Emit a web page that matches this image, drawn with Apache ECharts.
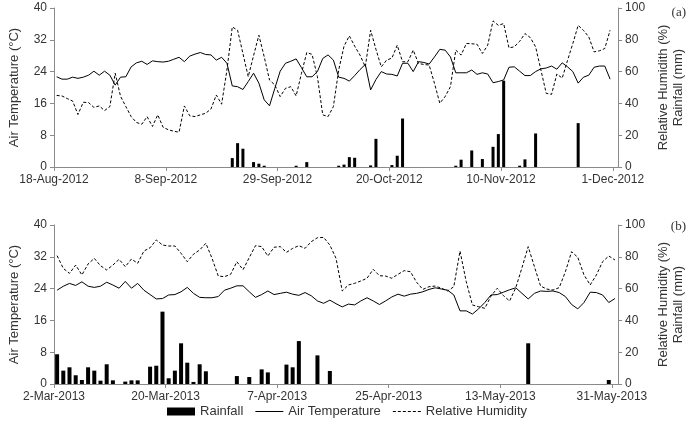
<!DOCTYPE html>
<html>
<head>
<meta charset="utf-8">
<script src="https://cdn.jsdelivr.net/npm/echarts@6/dist/echarts.min.js"></script>
<style>html,body{margin:0;padding:0;background:#fff}#c{width:694px;height:425px}</style>
</head>
<body>
<div id="c"></div>
<script>
// ---------- Panel (a): 18-Aug-2012 .. 1-Dec-2012 (daily, index 0 = 18-Aug-2012)
const ticksA = ['18-Aug-2012','8-Sep-2012','29-Sep-2012','20-Oct-2012','10-Nov-2012','1-Dec-2012'];
const tempA = [22.7,22.1,22.1,22.6,22.3,22.6,23.1,24.1,23.1,24.1,23.1,20.6,22.6,22.7,25.2,26.2,26.6,25.8,26.7,26.5,
  26.4,26.6,27.1,27.6,26.5,27.9,28.4,28.8,28.3,28.2,26.9,27.6,26.1,20.4,20.2,19.5,21.5,23.6,21.1,16.9,
  15.4,19.8,24.1,26.1,26.6,27.2,25.0,22.7,22.7,24.0,27.3,28.2,26.9,22.6,22.3,21.6,23.0,24.5,25.8,19.4,
  22.0,24.0,23.4,23.3,22.9,26.1,26.1,24.0,26.5,26.3,25.9,27.7,29.6,29.4,27.7,23.7,23.7,23.7,24.4,23.3,
  23.7,23.4,21.2,21.5,21.9,25.1,25.2,24.1,23.0,23.0,24.0,24.7,24.9,25.4,24.6,26.2,25.2,24.0,21.1,22.6,
  23.1,25.1,25.4,25.4,22.1];
const rhA = [45,44.7,43,41.5,33,40.7,40.5,37.5,38.4,35.5,38,59,44.5,38,31.7,28,26.9,31.7,25.5,32.8,
  25,23.4,22.5,21.9,38.4,32.2,31.7,32.8,33.8,36.5,45.3,39.5,61,88.1,86,71.4,56.8,70,82.9,69.3,
  54.7,51.6,44.3,49.5,50.5,44.7,58.9,72,70.8,56.8,32.8,31.7,38,61,76,82.5,76,70.4,63,86,
  74,63,67.2,68.5,76.6,66.2,66.2,73.5,65.1,64.5,64.1,52.6,40.1,44.3,50.5,73.5,70.4,77.7,77.5,77.2,
  71.4,76.6,91.9,89.1,90.2,74.9,75.6,79,83.9,81.4,75.6,61,46.3,45.7,58.5,55.9,67,77.7,89.1,85.9,
  81.8,72.4,73.1,74.5,86];
const rainDaysA = [33,34,35,37,38,39,45,47,53,54,55,56,59,60,63,64,65,75,76,78,80,82,83,84,87,88,90,98];
const rainA = [5.6,15,11.5,3.1,2.1,0.8,0.8,3.1,0.8,1.5,6.2,5.8,1.0,17.7,1.2,7.1,30.5,0.8,4.6,10.4,5.0,12.7,20.7,54.3,0.8,4.8,21.1,27.6];

// ---------- Panel (b): 2-Mar-2013 .. 31-May-2013 (daily, index 0 = 2-Mar-2013)
const ticksB = ['2-Mar-2013','20-Mar-2013','7-Apr-2013','25-Apr-2013','13-May-2013','31-May-2013'];
const tempB = [23.6,24.6,25.3,24.8,25.7,24.6,24.3,24.6,25.6,24.9,24.1,25.8,24.1,25.3,23.6,22.5,21.4,21.5,22.4,22.5,
  23.2,24.3,22.8,21.8,21.7,21.7,22.0,23.6,24.1,24.7,24.7,23.2,21.8,22.5,23.4,22.5,22.8,23.1,22.6,22.3,
  23.0,22.2,20.9,20.3,21.1,20.2,19.4,20.1,19.9,20.9,21.7,20.9,20.0,20.9,21.9,22.6,22.1,22.6,22.8,23.2,
  23.8,24.2,23.9,23.6,22.4,18.4,18.4,17.6,18.9,20.5,22.4,22.5,23.1,23.7,24.2,22.8,21.4,22.8,23.4,23.3,
  23.4,23.0,22.0,20.0,18.9,20.5,23.1,23.0,22.4,20.5,21.5];
const rhB = [80.7,72.7,69.6,74.8,68.6,75.5,79,74.4,71.7,74.8,78.4,73.8,78.6,75.9,83.6,85.7,90.6,87.4,86.8,86.8,
  82.2,76.9,81.6,84.3,88.5,79,67.9,67.5,69,76.9,71.9,79.5,87,86.4,80.5,86,86.4,82.8,85.3,87,
  85.3,89.5,92,92.2,87.4,79,58.5,62.3,63.3,64.8,66.5,72.1,68.1,67.9,66.5,69,71.3,70.6,64,59.5,
  61.2,61.6,60.2,58.5,61.2,83.6,64.4,49.7,48.6,47.6,55.3,60.2,55.6,52.2,60.6,73.2,86.4,73.8,61.6,59.7,
  59.1,60.6,70.6,83.2,79.7,68.6,62.3,68.6,76.9,80.5,78];
const rainDaysB = [0,1,2,3,4,5,6,7,8,9,11,12,13,15,16,17,18,19,20,21,22,23,24,29,31,33,34,37,38,39,42,44,76,89];
const rainB = [18.7,8.4,10.5,5.5,2.5,10.5,8.4,2.1,12.4,2.3,1.5,2.3,2.3,10.9,11.5,45.5,3.6,8.4,25.6,13.4,1.3,12.4,8.0,5.0,4.4,9.2,7.3,12.2,10.5,27,18,8.2,25.6,2.5];

const FONT = '"Liberation Sans", Arial, sans-serif';
const TXT = '#333';
const AX = '#8a8a8a';

// legend glyphs: a thin solid stroke and a thin dashed stroke
const ICON_SOLID = 'path://M0,0H28V1H0Z';
const ICON_DASH = 'path://M0,0H3V1H0Z M5,0H8V1H5Z M10,0H13V1H10Z M15,0H18V1H15Z M20,0H23V1H20Z M25,0H28V1H25Z';

// daily values are centred in their day (half a day after the tick)
const daily = arr => arr.map((v, i) => [i + 0.5, v]);
const rainPts = (days, vals) => days.map((d, i) => [d + 0.5, vals[i]]);

function xAxis(grid, max, interval, ticks) {
  return {
    type: 'value', gridIndex: grid, min: 0, max: max, interval: interval,
    axisLine: { show: true, onZero: false, lineStyle: { color: AX, width: 1 } },
    axisTick: { show: true, length: 4, lineStyle: { color: AX } },
    splitLine: { show: false },
    axisLabel: {
      color: TXT, fontFamily: FONT, fontSize: 12, margin: 7, showMaxLabel: false,
      formatter: v => { const k = v / interval; return Number.isInteger(k) && ticks[k] ? ticks[k] : ''; }
    }
  };
}
function yLeft(grid) {
  return {
    type: 'value', gridIndex: grid, position: 'left', min: 0, max: 40, interval: 8,
    name: 'Air Temperature (°C)', nameLocation: 'middle', nameGap: 33, nameRotate: 90,
    nameTextStyle: { color: TXT, fontFamily: FONT, fontSize: 13 },
    axisLine: { show: true, lineStyle: { color: AX } },
    axisTick: { show: true, length: 4, lineStyle: { color: AX } },
    splitLine: { show: false },
    axisLabel: { color: TXT, fontFamily: FONT, fontSize: 12, margin: 7 }
  };
}
function yRight(grid, name) {
  return {
    type: 'value', gridIndex: grid, position: 'right', min: 0, max: 100, interval: 20,
    name: name, nameLocation: 'middle', nameGap: 36, nameRotate: 90,
    nameTextStyle: { color: TXT, fontFamily: FONT, fontSize: 13, lineHeight: 15 },
    axisLine: { show: true, lineStyle: { color: AX } },
    axisTick: { show: true, length: 4, lineStyle: { color: AX } },
    splitLine: { show: false },
    axisLabel: { color: TXT, fontFamily: FONT, fontSize: 12, margin: 7 }
  };
}
function seriesFor(xi, yl, yr, temp, rh, rDays, rVals, bw) {
  return [
    { name: 'Rainfall', type: 'bar', xAxisIndex: xi, yAxisIndex: yr, data: rainPts(rDays, rVals),
      barWidth: bw, itemStyle: { color: '#000' }, silent: true },
    { name: 'Air Temperature', type: 'line', xAxisIndex: xi, yAxisIndex: yl, data: daily(temp),
      symbol: 'none', lineStyle: { color: '#000', width: 1 }, itemStyle: { color: '#000' } },
    { name: 'Relative Humidity', type: 'line', xAxisIndex: xi, yAxisIndex: yr, data: daily(rh),
      symbol: 'none', lineStyle: { color: '#000', width: 1, type: [3, 2] }, itemStyle: { color: '#000' } }
  ];
}

const chart = echarts.init(document.getElementById('c'), null, { renderer: 'canvas' });
chart.setOption({
  animation: false,
  backgroundColor: '#fff',
  title: [
    { text: '(a)', right: 3, top: 1, textStyle: { fontFamily: '"Liberation Serif", serif', fontWeight: 'normal', fontSize: 13, color: TXT } },
    { text: '(b)', right: 3, top: 215, textStyle: { fontFamily: '"Liberation Serif", serif', fontWeight: 'normal', fontSize: 13, color: TXT } }
  ],
  grid: [
    { left: 47, right: 69, top: 8, height: 159 },
    { left: 47, right: 67, top: 225, height: 159 }
  ],
  xAxis: [xAxis(0, 106, 21, ticksA), xAxis(1, 91, 18, ticksB)],
  yAxis: [yLeft(0), yRight(0, 'Relative Humidith (%)\nRainfall (mm)'), yLeft(1), yRight(1, 'Relative Humidity (%)\nRainfall (mm)')],
  legend: {
    bottom: 2, left: 'center', itemWidth: 28, itemHeight: 8, itemGap: 12, symbolKeepAspect: true,
    textStyle: { color: TXT, fontFamily: FONT, fontSize: 13 },
    data: [
      { name: 'Rainfall', icon: 'rect' },
      { name: 'Air Temperature', icon: ICON_SOLID, itemStyle: { color: '#000' } },
      { name: 'Relative Humidity', icon: ICON_DASH, itemStyle: { color: '#000' } }
    ]
  },
  series: [
    ...seriesFor(0, 0, 1, tempA, rhA, rainDaysA, rainA, 3),
    ...seriesFor(1, 2, 3, tempB, rhB, rainDaysB, rainB, 4)
  ]
});
</script>
</body>
</html>
